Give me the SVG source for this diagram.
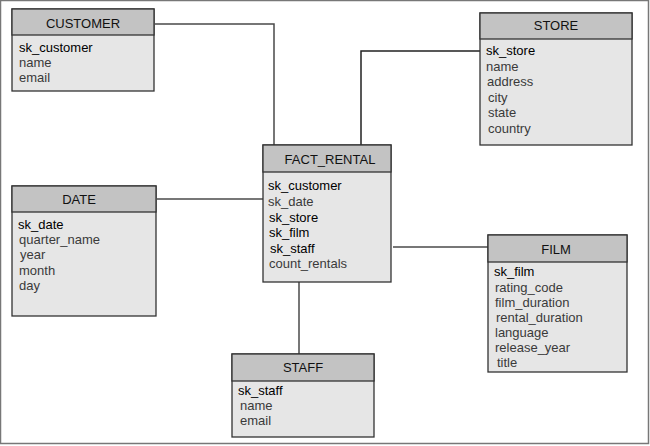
<svg xmlns="http://www.w3.org/2000/svg" width="650" height="446" viewBox="0 0 650 446">
<style>
.hd{fill:#c3c3c3;stroke:#333;stroke-width:1.3}
.bd{fill:#e6e6e6;stroke:#333;stroke-width:1.3}
.t{font-family:"Liberation Sans",Arial,sans-serif;font-size:13px;fill:#3a3a3a}
.k{fill:#000}
.h{font-family:"Liberation Sans",Arial,sans-serif;font-size:13px;fill:#111;text-anchor:middle}
.c{fill:none;stroke:#4a4a4a;stroke-width:1.5}
</style>
<rect x="0.5" y="0.5" width="648" height="443" fill="#fff" stroke="#777" stroke-width="1.5"/>
<g id="connectors">
<polyline class="c" points="155,24 274,24 274,145"/>
<polyline class="c" points="480,51 361,51 361,145" style="stroke:#222"/>
<line class="c" x1="157" y1="199" x2="263" y2="199"/>
<line class="c" x1="393" y1="247" x2="488" y2="247"/>
<line class="c" x1="299" y1="282" x2="299" y2="354"/>
</g>
<g id="customer">
<rect class="bd" x="12" y="9" width="142" height="82"/>
<rect class="hd" x="12" y="9" width="142" height="26"/>
<text class="h" x="83" y="27.5">CUSTOMER</text>
<text class="t k" x="19" y="52">sk_customer</text>
<text class="t" x="19" y="67">name</text>
<text class="t" x="19" y="81.5">email</text>
</g>
<g id="store">
<rect class="bd" x="480" y="13" width="152" height="132"/>
<rect class="hd" x="480" y="13" width="152" height="26"/>
<text class="h" x="556" y="30">STORE</text>
<text class="t k" x="486" y="55">sk_store</text>
<text class="t" x="486" y="70.5">name</text>
<text class="t" x="487" y="86">address</text>
<text class="t" x="488" y="101.5">city</text>
<text class="t" x="488" y="117">state</text>
<text class="t" x="488" y="132.5">country</text>
</g>
<g id="fact_rental">
<rect class="bd" x="263" y="145" width="128" height="137"/>
<rect class="hd" x="263" y="145" width="128" height="27"/>
<text class="h" x="330" y="164">FACT_RENTAL</text>
<text class="t k" x="268" y="189.5">sk_customer</text>
<text class="t" x="268" y="205.5">sk_date</text>
<text class="t k" x="269" y="221.5">sk_store</text>
<text class="t k" x="269" y="237">sk_film</text>
<text class="t k" x="270" y="252.5">sk_staff</text>
<text class="t" x="269" y="268">count_rentals</text>
</g>
<g id="date">
<rect class="bd" x="12" y="186" width="144" height="130"/>
<rect class="hd" x="12" y="186" width="144" height="26"/>
<text class="h" x="79" y="204">DATE</text>
<text class="t k" x="18" y="228.5">sk_date</text>
<text class="t" x="19" y="244">quarter_name</text>
<text class="t" x="20" y="259">year</text>
<text class="t" x="19" y="274.5">month</text>
<text class="t" x="19" y="289.5">day</text>
</g>
<g id="film">
<rect class="bd" x="488" y="235" width="139" height="137"/>
<rect class="hd" x="488" y="235" width="139" height="27"/>
<text class="h" x="556" y="254">FILM</text>
<text class="t k" x="494" y="276">sk_film</text>
<text class="t" x="495" y="291.5">rating_code</text>
<text class="t" x="495" y="306.5">film_duration</text>
<text class="t" x="496" y="321.5">rental_duration</text>
<text class="t" x="495" y="336.5">language</text>
<text class="t" x="495" y="351.5">release_year</text>
<text class="t" x="497" y="366.5">title</text>
</g>
<g id="staff">
<rect class="bd" x="232" y="354" width="142" height="83"/>
<rect class="hd" x="232" y="354" width="142" height="27"/>
<text class="h" x="303" y="372">STAFF</text>
<text class="t k" x="238" y="395">sk_staff</text>
<text class="t" x="240" y="410">name</text>
<text class="t" x="240" y="424.5">email</text>
</g>
</svg>
